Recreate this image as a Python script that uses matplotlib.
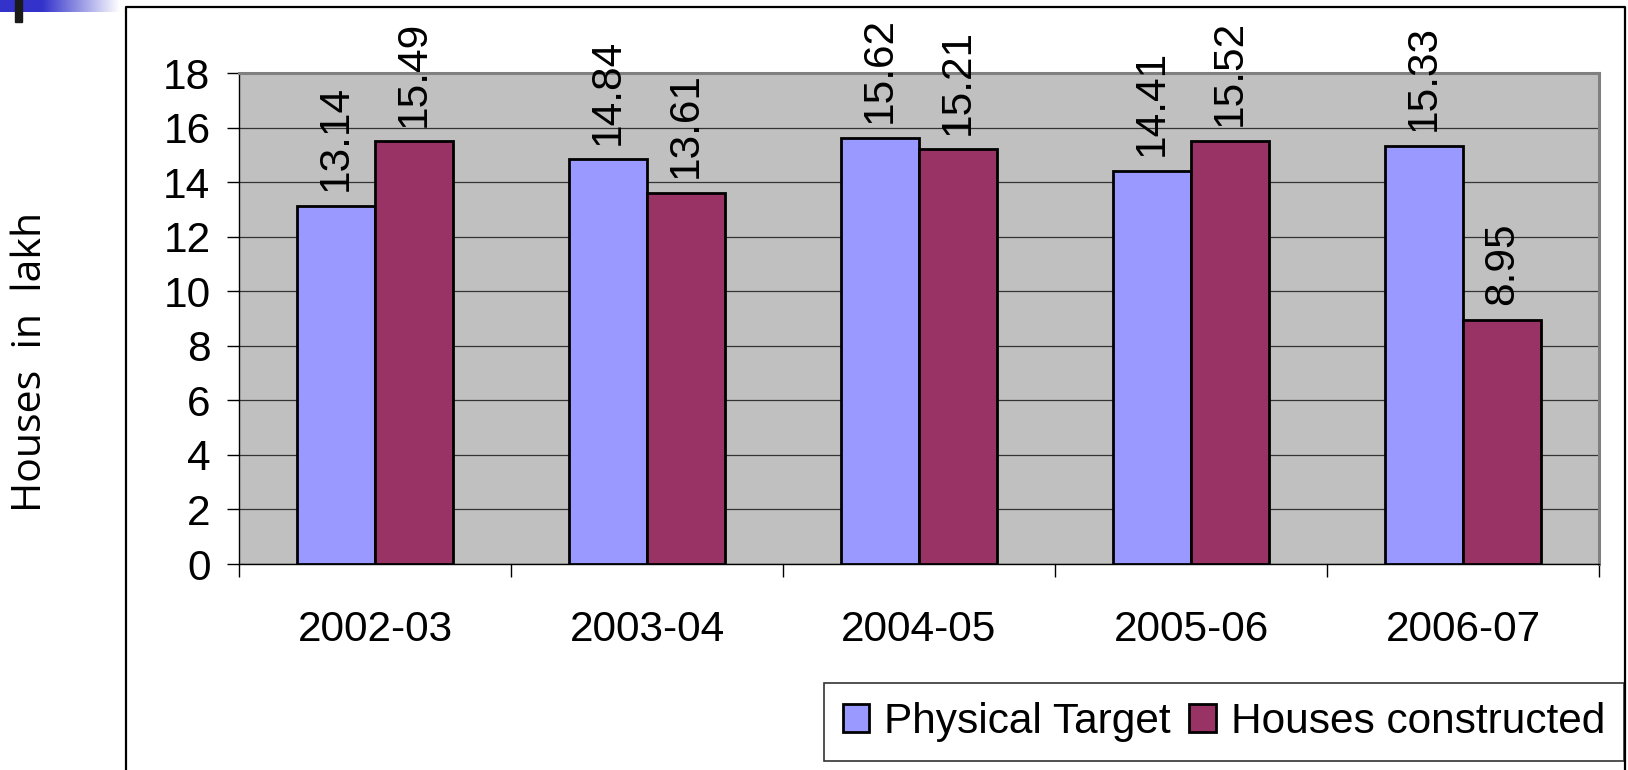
import numpy as np
import matplotlib.pyplot as plt
from matplotlib.patches import Patch
from matplotlib.lines import Line2D

years = ['2002-03', '2003-04', '2004-05', '2005-06', '2006-07']
physical_target = [13.14, 14.84, 15.62, 14.41, 15.33]
houses_constructed = [15.49, 13.61, 15.21, 15.52, 8.95]

blue = '#9999FF'
plum = '#993366'
fs = 30.5

plt.rcParams['font.family'] = ['Liberation Sans', 'DejaVu Sans']

W, H = 1628, 770
fig = plt.figure(figsize=(W / 100, H / 100), dpi=100)

# slide decoration in the top left corner
deco = fig.add_axes([0, 1 - 12 / H, 120 / W, 12 / H])
grad = np.ones((1, 200, 3))
t = np.clip((np.linspace(0, 1, 200) - 0.35) / 0.65, 0, 1)
base = np.array([0x33, 0x33, 0xCC]) / 255
for k in range(3):
    grad[0, :, k] = base[k] + (1 - base[k]) * t
deco.imshow(grad, aspect='auto', extent=[0, 1, 0, 1])
deco.axis('off')
fig.add_artist(plt.Rectangle((15 / W, 1 - 22 / H), 7 / W, 22 / H,
                             transform=fig.transFigure, color='#1a1a1a'))

# outer chart frame (left, top, right)
fx0, fx1, fy1 = 126 / W, 1625 / W, 1 - 7 / H
fig.add_artist(Line2D([fx0, fx0, fx1, fx1], [0, fy1, fy1, 0],
                      transform=fig.transFigure, color='black', lw=1.6))

ax = fig.add_axes([239 / W, 1 - 564 / H, (1599 - 239) / W, (564 - 73) / H])
ax.set_facecolor('#C0C0C0')

x = np.arange(len(years))
bw = 0.287
ax.bar(x - bw / 2, physical_target, bw, color=blue, edgecolor='black', lw=2, zorder=3)
ax.bar(x + bw / 2, houses_constructed, bw, color=plum, edgecolor='black', lw=2, zorder=3)

for i in range(len(years)):
    for xx, v in ((x[i] - bw / 2, physical_target[i]), (x[i] + bw / 2, houses_constructed[i])):
        ax.annotate(f'{v:.2f}', (xx, v), xytext=(0, 10.5), textcoords='offset points',
                    rotation=90, ha='center', va='bottom', fontsize=fs)

ax.set_xlim(-0.5, len(years) - 0.5)
ax.set_ylim(0, 18)
ax.set_yticks(range(0, 19, 2))
ax.set_xticks(x)
ax.set_xticklabels(years)
ax.set_xticks(np.arange(-0.5, len(years), 1), minor=True)
ax.tick_params(axis='x', which='major', length=0, pad=33, labelsize=fs)
ax.tick_params(axis='x', which='minor', length=9, width=1, color='black')
ax.tick_params(axis='y', length=8.6, width=1, pad=12, labelsize=fs)
ax.grid(axis='y', color='#333333', lw=0.9, zorder=1)
ax.set_axisbelow(True)
for s in ('top', 'right'):
    ax.spines[s].set_color('#808080')
    ax.spines[s].set_linewidth(2.2)
for s in ('left', 'bottom'):
    ax.spines[s].set_color('black')
    ax.spines[s].set_linewidth(1)

fig.text(31 / W, 1 - 362 / H, 'Houses  in  lakh', rotation=90, ha='center', va='center',
         fontsize=29.5, family=['Open Sans', 'DejaVu Sans'])

handles = [Patch(facecolor=blue, edgecolor='black', lw=2),
           Patch(facecolor=plum, edgecolor='black', lw=2)]
leg = fig.legend(handles, ['Physical Target', 'Houses constructed'], ncol=2,
                 loc='lower right', bbox_to_anchor=(1624 / W, 9 / H),
                 borderaxespad=0, fontsize=fs, frameon=True, fancybox=False,
                 edgecolor='black', handlelength=0.62, handleheight=0.62,
                 handletextpad=0.35, columnspacing=0.45, borderpad=0.45)
leg.get_frame().set_linewidth(1.2)

fig.savefig('out.png', dpi=100)
